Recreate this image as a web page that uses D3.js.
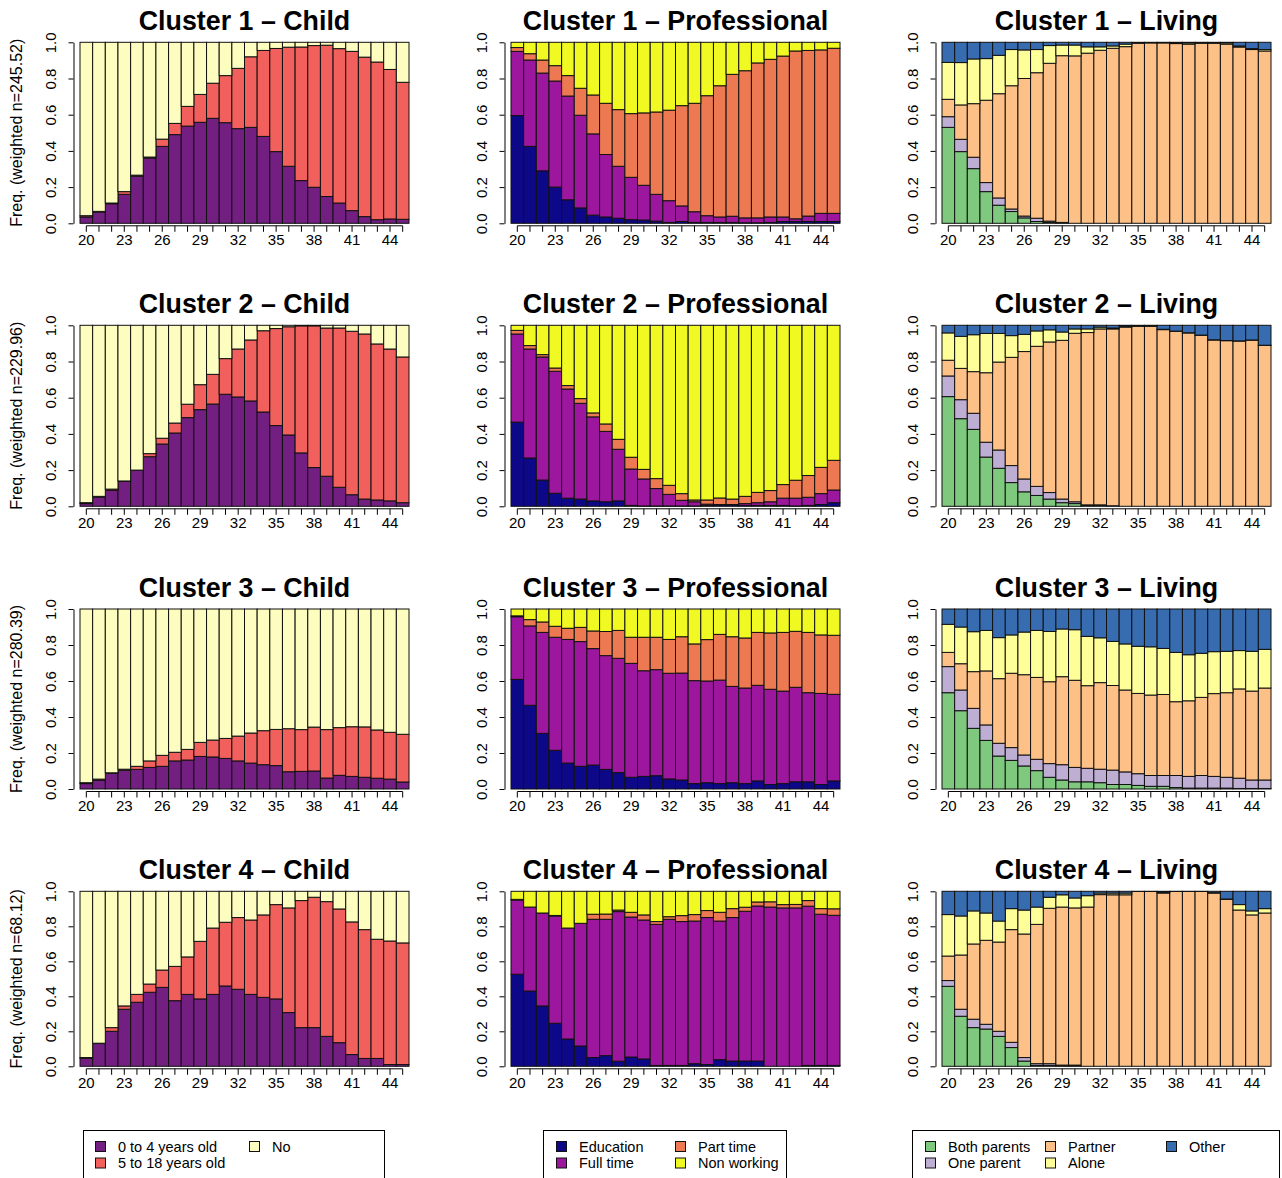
<!DOCTYPE html>
<html>
<head>
<meta charset="utf-8">
<script src="https://cdn.jsdelivr.net/npm/d3@7"></script>
<style>
  body { margin: 0; background: #fff; }
  svg { display: block; font-family: "Liberation Sans", Arial, Helvetica, sans-serif; }
</style>
</head>
<body>
<svg id="chart" width="1282" height="1178"></svg>
<script>
// ---- Axis categories and tick labels ----
const ages = [20,21,22,23,24,25,26,27,28,29,30,31,32,33,34,35,36,37,38,39,40,41,42,43,44,45];
const ageLabels = [20,23,26,29,32,35,38,41,44];
const yTicks = [0, 0.2, 0.4, 0.6, 0.8, 1.0];
const clusterNames = ["Cluster 1", "Cluster 2", "Cluster 3", "Cluster 4"];
const weightedN = ["245.52", "229.96", "280.39", "68.12"];

// ---- States and palettes per domain ----
const childStates = ["0 to 4 years old", "5 to 18 years old", "No"];
const childColors = ["#721F81", "#F1605D", "#FCFDBF"];
const profStates = ["Education", "Full time", "Part time", "Non working"];
const profColors = ["#0D0887", "#9C179E", "#ED7953", "#F0F921"];
const livingStates = ["Both parents", "One parent", "Partner", "Alone", "Other"];
const livingColors = ["#7FC97F", "#BEAED4", "#FDC086", "#FFFF99", "#386CB0"];

// ---- Cluster 1 ----
const c1Child04  = [0.035,0.062,0.108,0.16,0.26,0.36,0.425,0.49,0.537,0.558,0.58,0.556,0.523,0.53,0.48,0.396,0.315,0.236,0.199,0.148,0.112,0.07,0.037,0.02,0.024,0.022];
const c1Child518 = [0.007,0.004,0.004,0.015,0.006,0.006,0.04,0.062,0.109,0.154,0.194,0.26,0.333,0.39,0.475,0.57,0.658,0.738,0.783,0.836,0.853,0.88,0.881,0.871,0.826,0.757];
const c1ChildNo  = [0.958,0.934,0.888,0.825,0.734,0.634,0.535,0.448,0.354,0.288,0.226,0.184,0.144,0.08,0.045,0.034,0.027,0.026,0.018,0.016,0.035,0.05,0.082,0.109,0.15,0.221];

const c1ProfEdu = [0.595,0.425,0.29,0.2,0.13,0.085,0.045,0.035,0.028,0.02,0.018,0.012,0.005,0.01,0.005,0.005,0.005,0.005,0.003,0.003,0.005,0.01,0.01,0.01,0.01,0.01];
const c1ProfFT  = [0.355,0.477,0.54,0.586,0.573,0.512,0.449,0.345,0.287,0.234,0.192,0.148,0.12,0.086,0.059,0.037,0.03,0.034,0.027,0.027,0.03,0.025,0.015,0.03,0.045,0.045];
const c1ProfPT  = [0.021,0.035,0.072,0.085,0.113,0.149,0.215,0.283,0.313,0.352,0.4,0.455,0.5,0.554,0.599,0.663,0.725,0.784,0.813,0.856,0.871,0.889,0.927,0.915,0.903,0.912];
const c1ProfNW  = [0.029,0.063,0.098,0.129,0.184,0.254,0.291,0.337,0.372,0.394,0.39,0.385,0.375,0.35,0.337,0.295,0.24,0.177,0.157,0.114,0.094,0.076,0.048,0.045,0.042,0.033];

const c1LivBoth    = [0.53,0.396,0.302,0.175,0.1,0.065,0.03,0.01,0.005,0.002,0,0,0,0,0,0,0,0,0,0,0,0,0,0,0,0];
const c1LivOne     = [0.059,0.068,0.063,0.05,0.04,0.014,0.01,0.018,0.007,0.003,0,0,0,0,0,0,0,0,0,0,0,0,0,0,0,0];
const c1LivPartner = [0.096,0.19,0.296,0.455,0.576,0.681,0.76,0.804,0.872,0.921,0.925,0.94,0.956,0.967,0.976,0.995,0.997,0.997,0.993,0.99,0.995,0.995,0.99,0.974,0.96,0.952];
const c1LivAlone   = [0.204,0.234,0.247,0.23,0.212,0.2,0.158,0.128,0.098,0.059,0.06,0.035,0.019,0.013,0.014,0.002,0.001,0.001,0.004,0.007,0.002,0.002,0.007,0.006,0.005,0.008];
const c1LivOther   = [0.111,0.112,0.092,0.09,0.072,0.04,0.042,0.04,0.018,0.015,0.015,0.025,0.025,0.02,0.01,0.003,0.002,0.002,0.003,0.003,0.003,0.003,0.003,0.02,0.035,0.04];

// ---- Cluster 2 ----
const c2Child04  = [0.015,0.05,0.088,0.138,0.199,0.274,0.344,0.405,0.49,0.534,0.565,0.619,0.604,0.582,0.521,0.446,0.394,0.295,0.214,0.166,0.105,0.064,0.04,0.035,0.03,0.02];
const c2Child518 = [0.005,0.005,0.007,0.002,0.001,0.017,0.032,0.055,0.074,0.138,0.164,0.197,0.265,0.337,0.449,0.536,0.598,0.702,0.783,0.819,0.88,0.903,0.912,0.862,0.839,0.805];
const c2ChildNo  = [0.98,0.945,0.905,0.86,0.8,0.709,0.624,0.54,0.436,0.328,0.271,0.184,0.131,0.081,0.03,0.018,0.008,0.003,0.003,0.015,0.015,0.033,0.048,0.103,0.131,0.175];

const c2ProfEdu = [0.465,0.267,0.145,0.072,0.045,0.04,0.03,0.025,0.03,0.005,0.002,0.002,0.002,0.002,0.002,0.005,0.008,0.008,0.005,0.005,0.005,0.005,0.002,0.005,0.01,0.02];
const c2ProfFT  = [0.487,0.602,0.68,0.674,0.603,0.529,0.464,0.389,0.285,0.201,0.149,0.096,0.064,0.031,0.023,0.007,0.002,0.002,0.01,0.015,0.02,0.04,0.043,0.045,0.06,0.07];
const c2ProfPT  = [0.02,0.019,0.013,0.018,0.019,0.026,0.022,0.041,0.055,0.065,0.053,0.055,0.05,0.037,0.01,0.023,0.036,0.03,0.04,0.057,0.062,0.075,0.099,0.12,0.145,0.164];
const c2ProfNW  = [0.028,0.112,0.162,0.236,0.333,0.405,0.484,0.545,0.63,0.729,0.796,0.847,0.884,0.93,0.965,0.965,0.954,0.96,0.945,0.923,0.913,0.88,0.856,0.83,0.785,0.746];

const c2LivBoth    = [0.606,0.484,0.425,0.272,0.21,0.131,0.08,0.06,0.04,0.02,0.015,0.005,0.005,0,0,0,0,0,0,0,0,0,0,0,0,0];
const c2LivOne     = [0.114,0.105,0.089,0.082,0.101,0.094,0.071,0.05,0.036,0.02,0.01,0.003,0.003,0.003,0,0,0,0,0,0,0,0,0,0,0,0];
const c2LivPartner = [0.087,0.173,0.23,0.384,0.486,0.598,0.704,0.774,0.832,0.877,0.931,0.952,0.972,0.977,0.99,0.995,0.995,0.976,0.967,0.958,0.945,0.919,0.915,0.913,0.918,0.889];
const c2LivAlone   = [0.151,0.177,0.204,0.217,0.158,0.12,0.095,0.085,0.067,0.046,0.024,0.02,0.01,0.005,0.005,0.001,0.001,0.002,0.001,0.001,0.001,0.001,0.001,0.001,0.001,0.001];
const c2LivOther   = [0.042,0.061,0.052,0.045,0.045,0.057,0.05,0.031,0.025,0.037,0.02,0.02,0.01,0.015,0.005,0.004,0.004,0.022,0.032,0.041,0.054,0.08,0.084,0.086,0.081,0.11];

// ---- Cluster 3 ----
const c3Child04  = [0.03,0.048,0.087,0.104,0.109,0.12,0.126,0.156,0.161,0.181,0.178,0.17,0.156,0.144,0.135,0.13,0.096,0.098,0.1,0.061,0.076,0.07,0.065,0.06,0.055,0.039];
const c3Child518 = [0.005,0.007,0.003,0.006,0.017,0.036,0.061,0.048,0.059,0.078,0.094,0.111,0.138,0.167,0.189,0.201,0.239,0.232,0.244,0.269,0.265,0.276,0.28,0.268,0.26,0.265];
const c3ChildNo  = [0.965,0.945,0.91,0.89,0.874,0.844,0.813,0.796,0.78,0.741,0.728,0.719,0.706,0.689,0.676,0.669,0.665,0.67,0.656,0.67,0.659,0.654,0.655,0.672,0.685,0.696];

const c3ProfEdu = [0.609,0.465,0.309,0.215,0.144,0.126,0.133,0.109,0.091,0.065,0.07,0.074,0.056,0.05,0.03,0.035,0.03,0.035,0.03,0.045,0.025,0.03,0.04,0.04,0.025,0.045];
const c3ProfFT  = [0.348,0.441,0.561,0.628,0.687,0.693,0.647,0.632,0.635,0.633,0.587,0.589,0.587,0.594,0.572,0.565,0.575,0.535,0.531,0.531,0.529,0.514,0.525,0.495,0.506,0.481];
const c3ProfPT  = [0.005,0.035,0.058,0.061,0.062,0.079,0.098,0.134,0.155,0.145,0.186,0.18,0.188,0.202,0.204,0.23,0.254,0.276,0.278,0.294,0.313,0.326,0.311,0.335,0.325,0.328];
const c3ProfNW  = [0.038,0.059,0.072,0.096,0.107,0.102,0.122,0.125,0.119,0.157,0.157,0.157,0.169,0.154,0.194,0.17,0.141,0.154,0.161,0.13,0.133,0.13,0.124,0.13,0.144,0.146];

const c3LivBoth    = [0.535,0.435,0.337,0.27,0.183,0.159,0.128,0.102,0.065,0.05,0.04,0.04,0.035,0.025,0.025,0.02,0.015,0.015,0.008,0.005,0.005,0.005,0.005,0.003,0.003,0.003];
const c3LivOne     = [0.145,0.115,0.111,0.086,0.071,0.071,0.061,0.063,0.076,0.085,0.08,0.075,0.075,0.08,0.07,0.065,0.06,0.06,0.067,0.065,0.07,0.065,0.06,0.057,0.047,0.047];
const c3LivPartner = [0.079,0.146,0.204,0.3,0.359,0.413,0.446,0.455,0.455,0.489,0.484,0.459,0.481,0.47,0.455,0.446,0.447,0.45,0.41,0.42,0.434,0.46,0.47,0.496,0.494,0.511];
const c3LivAlone   = [0.156,0.204,0.222,0.225,0.228,0.213,0.237,0.261,0.279,0.265,0.281,0.274,0.249,0.245,0.256,0.262,0.268,0.256,0.274,0.256,0.245,0.233,0.23,0.213,0.221,0.215];
const c3LivOther   = [0.085,0.1,0.126,0.119,0.159,0.144,0.128,0.119,0.125,0.111,0.115,0.152,0.16,0.18,0.194,0.207,0.21,0.219,0.241,0.254,0.246,0.237,0.235,0.231,0.235,0.224];

// ---- Cluster 4 ----
const c4Child04  = [0.046,0.13,0.2,0.326,0.366,0.423,0.451,0.375,0.411,0.385,0.411,0.459,0.44,0.411,0.394,0.385,0.307,0.221,0.221,0.171,0.135,0.067,0.045,0.045,0.01,0.01];
const c4Child518 = [0.004,0.002,0.021,0.019,0.045,0.047,0.099,0.196,0.214,0.329,0.379,0.364,0.41,0.425,0.471,0.539,0.598,0.726,0.745,0.77,0.764,0.758,0.736,0.681,0.706,0.695];
const c4ChildNo  = [0.95,0.868,0.779,0.655,0.589,0.53,0.45,0.429,0.375,0.286,0.21,0.177,0.15,0.164,0.135,0.076,0.095,0.053,0.034,0.059,0.101,0.175,0.219,0.274,0.284,0.295];

const c4ProfEdu = [0.526,0.43,0.345,0.246,0.156,0.116,0.05,0.061,0.029,0.053,0.042,0.005,0.005,0.005,0.015,0.01,0.038,0.03,0.03,0.03,0,0,0,0.005,0.005,0.005];
const c4ProfFT  = [0.424,0.48,0.531,0.613,0.634,0.701,0.79,0.779,0.855,0.8,0.794,0.806,0.835,0.822,0.815,0.84,0.792,0.82,0.856,0.886,0.91,0.905,0.905,0.91,0.864,0.858];
const c4ProfPT  = [0.004,0,0,0.003,0,0,0.029,0.03,0.009,0.027,0.029,0.016,0.015,0.034,0.037,0.04,0.05,0.051,0.023,0.023,0.03,0.019,0.02,0.032,0.032,0.037];
const c4ProfNW  = [0.046,0.09,0.124,0.138,0.21,0.183,0.131,0.13,0.107,0.12,0.135,0.173,0.145,0.139,0.133,0.11,0.12,0.099,0.091,0.061,0.06,0.076,0.075,0.053,0.099,0.1];

const c4LivBoth    = [0.457,0.286,0.221,0.213,0.171,0.107,0.03,0.005,0.005,0.003,0.003,0,0,0,0,0,0,0,0,0,0,0,0,0,0,0];
const c4LivOne     = [0.033,0.04,0.048,0.027,0.029,0.03,0.02,0.01,0.01,0.004,0.004,0,0,0,0,0,0,0,0,0,0,0,0,0,0,0];
const c4LivPartner = [0.14,0.31,0.43,0.48,0.51,0.644,0.706,0.796,0.888,0.903,0.898,0.91,0.981,0.98,0.98,0.999,0.999,0.99,0.999,0.999,0.999,0.99,0.954,0.893,0.865,0.876];
const c4LivAlone   = [0.237,0.223,0.189,0.156,0.12,0.12,0.137,0.099,0.063,0.07,0.057,0.065,0.009,0.01,0.01,0.001,0.001,0.005,0.001,0.001,0.001,0.002,0.002,0.031,0.023,0.025];
const c4LivOther   = [0.133,0.141,0.112,0.124,0.17,0.099,0.107,0.09,0.034,0.02,0.038,0.025,0.01,0.01,0.01,0,0,0.005,0,0,0,0.008,0.044,0.076,0.112,0.099];

// ---- Domains: one column of panels each ----
const domains = [
  { name: "Child", states: childStates, colors: childColors,
    series: [[c1Child04, c1Child518, c1ChildNo],
             [c2Child04, c2Child518, c2ChildNo],
             [c3Child04, c3Child518, c3ChildNo],
             [c4Child04, c4Child518, c4ChildNo]] },
  { name: "Professional", states: profStates, colors: profColors,
    series: [[c1ProfEdu, c1ProfFT, c1ProfPT, c1ProfNW],
             [c2ProfEdu, c2ProfFT, c2ProfPT, c2ProfNW],
             [c3ProfEdu, c3ProfFT, c3ProfPT, c3ProfNW],
             [c4ProfEdu, c4ProfFT, c4ProfPT, c4ProfNW]] },
  { name: "Living", states: livingStates, colors: livingColors,
    series: [[c1LivBoth, c1LivOne, c1LivPartner, c1LivAlone, c1LivOther],
             [c2LivBoth, c2LivOne, c2LivPartner, c2LivAlone, c2LivOther],
             [c3LivBoth, c3LivOne, c3LivPartner, c3LivAlone, c3LivOther],
             [c4LivBoth, c4LivOne, c4LivPartner, c4LivAlone, c4LivOther]] }
];

// ---- Layout ----
const colLeft = [80, 511, 942];
const plotW = 329;
const rowTop = [42.3, 325.3, 609, 891.3];
const rowH = [181, 181, 180, 175];
const FONT = 15;

const svg = d3.select("#chart");

domains.forEach((dom, c) => {
  clusterNames.forEach((cl, r) => {
    const L = colLeft[c], T = rowTop[r], H = rowH[r], W = plotW;
    const table = ages.map((age, i) => {
      const row = { age };
      dom.states.forEach((s, k) => { row[s] = dom.series[r][k][i]; });
      return row;
    });
    const stacked = d3.stack().keys(dom.states)(table);

    const x = d3.scaleBand().domain(ages).range([L, L + W]).padding(0);
    const y = d3.scaleLinear().domain([0, 1]).range([T + H, T]);

    const g = svg.append("g").attr("class", "panel");

    // stacked bars
    g.append("g").selectAll("g")
      .data(stacked)
      .join("g")
        .attr("fill", (d, i) => dom.colors[i])
      .selectAll("rect")
      .data(d => d)
      .join("rect")
        .attr("x", d => x(d.data.age))
        .attr("y", d => y(d[1]))
        .attr("width", x.bandwidth())
        .attr("height", d => y(d[0]) - y(d[1]))
        .attr("stroke", "#111")
        .attr("stroke-width", 1);

    // x axis: a tick per age, labels on every third
    const axisY = T + H + 2.5;
    const gx = g.append("g")
      .attr("transform", `translate(0,${axisY})`)
      .call(d3.axisBottom(x)
        .tickValues(ages)
        .tickSize(6)
        .tickPadding(3)
        .tickFormat(d => ageLabels.includes(d) ? d : ""));
    gx.select(".domain").remove();
    gx.append("line")
      .attr("x1", x(ages[0]) + x.bandwidth() / 2)
      .attr("x2", x(ages[ages.length - 1]) + x.bandwidth() / 2)
      .attr("stroke", "#000");
    gx.selectAll(".tick line").attr("stroke", "#000");
    gx.selectAll(".tick text")
      .attr("fill", "#000")
      .style("font-size", FONT + "px")
      .style("font-family", "'Liberation Sans', Arial, sans-serif");

    // y axis with labels parallel to the axis
    const gy = g.append("g")
      .attr("transform", `translate(${L - 6.5},0)`)
      .call(d3.axisLeft(y)
        .tickValues(yTicks)
        .tickSize(5)
        .tickSizeOuter(0)
        .tickFormat(d3.format(".1f")));
    gy.select(".domain").attr("stroke", "#000");
    gy.selectAll(".tick line").attr("stroke", "#000");
    gy.selectAll(".tick text")
      .attr("transform", "rotate(-90)")
      .attr("x", 0)
      .attr("y", -17.5)
      .attr("dy", 0)
      .attr("text-anchor", "middle")
      .attr("fill", "#000")
      .style("font-size", FONT + "px")
      .style("font-family", "'Liberation Sans', Arial, sans-serif");

    // title
    g.append("text")
      .attr("x", L + W / 2)
      .attr("y", T - 12)
      .attr("text-anchor", "middle")
      .attr("font-weight", "bold")
      .attr("font-size", 26.8)
      .text(`${cl} \u2013 ${dom.name}`);

    // y label on the first column only
    if (c === 0) {
      g.append("text")
        .attr("transform", `translate(21.5,${T + H / 2}) rotate(-90)`)
        .attr("text-anchor", "middle")
        .attr("font-size", 16)
        .text(`Freq. (weighted n=${weightedN[r]})`);
    }
  });
});

// ---- Legends (column-major, two rows) ----
const legends = [
  { states: childStates, colors: childColors, box: [83, 384], cols: [95, 249] },
  { states: profStates, colors: profColors, box: [543, 786], cols: [556, 675] },
  { states: livingStates, colors: livingColors, box: [912, 1279], cols: [925, 1045, 1166] }
];
const legTop = 1130;
const rowCenters = [1146.5, 1163];
const sw = 10;

legends.forEach(lg => {
  const g = svg.append("g").attr("class", "legend");
  g.append("rect")
    .attr("x", lg.box[0] + 0.5)
    .attr("y", legTop + 0.5)
    .attr("width", lg.box[1] - lg.box[0])
    .attr("height", 80)
    .attr("fill", "none")
    .attr("stroke", "#000");
  lg.states.forEach((s, i) => {
    const col = Math.floor(i / 2), row = i % 2;
    const sx = lg.cols[col], cy = rowCenters[row];
    g.append("rect")
      .attr("x", sx + 0.5)
      .attr("y", cy - sw / 2)
      .attr("width", sw)
      .attr("height", sw)
      .attr("fill", lg.colors[i])
      .attr("stroke", "#111");
    g.append("text")
      .attr("x", sx + 23)
      .attr("y", cy)
      .attr("dy", "0.35em")
      .attr("font-size", 14.5)
      .text(s);
  });
});
</script>
</body>
</html>
